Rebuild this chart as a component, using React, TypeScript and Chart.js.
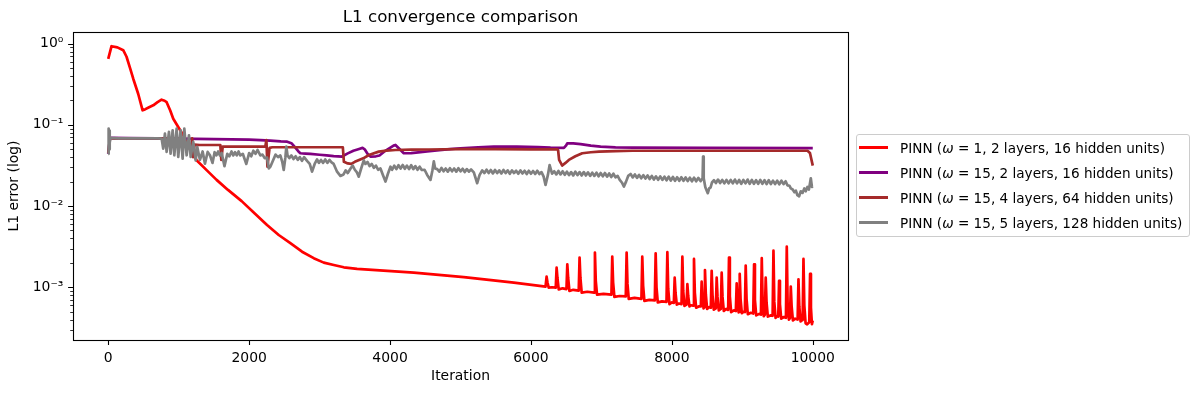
import React, { useEffect, useRef } from "react";
import { Chart, registerables } from "chart.js";

Chart.register(...registerables);

const FONT = "'DejaVu Sans', 'Liberation Sans', sans-serif";

const chartTitle = "L1 convergence comparison";
const xTitle = "Iteration";
const yTitle = "L1 error (log)";

const xTicks = [0, 2000, 4000, 6000, 8000, 10000];
const yMajorTicks = [1e-3, 1e-2, 1e-1, 1];
const yTickLabels = ["10⁻³", "10⁻²", "10⁻¹", "10⁰"];
const yMinorTicks = [
  3e-4, 4e-4, 5e-4, 6e-4, 7e-4, 8e-4, 9e-4,
  2e-3, 3e-3, 4e-3, 5e-3, 6e-3, 7e-3, 8e-3, 9e-3,
  2e-2, 3e-2, 4e-2, 5e-2, 6e-2, 7e-2, 8e-2, 9e-2,
  2e-1, 3e-1, 4e-1, 5e-1, 6e-1, 7e-1, 8e-1, 9e-1,
];

const seriesLabels = [
  { pre: "PINN (", w: "ω", post: " = 1, 2 layers, 16 hidden units)" },
  { pre: "PINN (", w: "ω", post: " = 15, 2 layers, 16 hidden units)" },
  { pre: "PINN (", w: "ω", post: " = 15, 4 layers, 64 hidden units)" },
  { pre: "PINN (", w: "ω", post: " = 15, 5 layers, 128 hidden units)" },
];
const seriesNames = seriesLabels.map((l) => l.pre + l.w + l.post);
const seriesColors = ["#ff0000", "#800080", "#a52a2a", "#808080"];

// ω=1, 2 layers, 16 hidden units
const redIter = [
  0, 47, 130, 213, 260, 310, 355, 426, 488, 521, 580, 639, 700, 757, 800, 829, 880, 923, 1000, 1065,
  1150, 1254, 1400, 1538, 1700, 1894, 2080, 2254, 2420, 2585, 2751, 2917, 3059, 3201, 3343, 3532, 4337, 5047, 5757, 6207,
  6210, 6222, 6234, 6252,
  6300, 6352, 6364, 6376, 6394,
  6450, 6504, 6516, 6528, 6546,
  6600, 6678, 6690, 6702, 6720,
  6800, 6896, 6908, 6920, 6938,
  7030, 7142, 7154, 7166, 7184,
  7260, 7346, 7358, 7370, 7388,
  7470, 7568, 7580, 7592, 7610,
  7680, 7758, 7770, 7782, 7800,
  7860, 7924, 7936, 7948, 7966,
  8000, 8028, 8040, 8052, 8070,
  8100, 8137, 8149, 8161, 8179,
  8208, 8220, 8232, 8250,
  8270, 8302, 8314, 8326, 8344,
  8380, 8411, 8423, 8435, 8450,
  8460, 8470, 8482, 8500,
  8530, 8553, 8565, 8577, 8595,
  8624, 8636, 8648, 8666,
  8695, 8707, 8719, 8737,
  8770, 8799, 8811, 8823, 8841,
  8880, 8908, 8920, 8932, 8948,
  8953, 8963, 8975, 8993,
  9020, 9036, 9048, 9060, 9078,
  9120, 9155, 9167, 9179, 9197,
  9240, 9264, 9276, 9288, 9304,
  9320, 9332, 9344, 9362,
  9400, 9430, 9442, 9454, 9472,
  9495, 9510, 9522, 9534, 9552,
  9590, 9619, 9631, 9643, 9661,
  9676, 9688, 9700, 9718,
  9750, 9785, 9797, 9809, 9827,
  9845, 9856, 9868, 9880, 9898,
  9920, 9950, 9962, 9974, 9988, 10000,
];
const redL1 = [
  0.65, 0.93, 0.9, 0.83, 0.69, 0.5, 0.37, 0.24, 0.151, 0.155, 0.165, 0.174, 0.19, 0.204, 0.198, 0.19, 0.15, 0.119, 0.092, 0.0745,
  0.052, 0.0366, 0.0275, 0.021, 0.0158, 0.0115, 0.0081, 0.00585, 0.0044, 0.00349, 0.00274, 0.00228, 0.00201, 0.00188, 0.00176, 0.00168, 0.00151, 0.00133, 0.00114, 0.00102,
  1.02e-3, 1.35e-3, 1.15e-3, 9.9e-4,
  1.0e-3, 9.9e-4, 1.74e-3, 1.3e-3, 9.4e-4,
  9.7e-4, 9.5e-4, 1.92e-3, 1.3e-3, 9.0e-4,
  9.3e-4, 9.1e-4, 2.32e-3, 1.3e-3, 8.6e-4,
  8.8e-4, 8.6e-4, 2.67e-3, 1.2e-3, 8.1e-4,
  8.3e-4, 8.1e-4, 2.38e-3, 1.15e-3, 7.6e-4,
  7.8e-4, 7.7e-4, 2.67e-3, 1.1e-3, 7.2e-4,
  7.4e-4, 7.2e-4, 2.38e-3, 1.05e-3, 6.8e-4,
  7.0e-4, 6.9e-4, 2.62e-3, 1.0e-3, 6.5e-4,
  6.7e-4, 6.6e-4, 2.7e-3, 9.6e-4, 6.2e-4,
  6.5e-4, 6.4e-4, 1.31e-3, 8.5e-4, 6.1e-4,
  6.3e-4, 6.2e-4, 2.38e-3, 9.0e-4, 5.9e-4,
  6.1e-4, 1.09e-3, 7.8e-4, 5.8e-4,
  6.0e-4, 5.95e-4, 2.23e-3, 8.6e-4, 5.6e-4,
  5.8e-4, 5.8e-4, 1.17e-3, 7.5e-4, 5.5e-4,
  5.7e-4, 1.63e-3, 8.2e-4, 5.4e-4,
  5.7e-4, 5.6e-4, 1.59e-3, 8.0e-4, 5.3e-4,
  5.5e-4, 1.31e-3, 7.6e-4, 5.2e-4,
  5.4e-4, 1.51e-3, 7.6e-4, 5.1e-4,
  5.4e-4, 5.25e-4, 2.32e-3, 7.8e-4, 4.95e-4,
  5.2e-4, 5.1e-4, 1.12e-3, 7.0e-4, 4.9e-4,
  5.0e-4, 1.46e-3, 7.2e-4, 4.8e-4,
  5.0e-4, 4.95e-4, 1.85e-3, 7.2e-4, 4.65e-4,
  4.85e-4, 4.75e-4, 1.92e-3, 7.0e-4, 4.5e-4,
  4.7e-4, 4.6e-4, 2.28e-3, 6.8e-4, 4.4e-4,
  4.6e-4, 1.31e-3, 6.5e-4, 4.35e-4,
  4.5e-4, 4.45e-4, 2.82e-3, 6.6e-4, 4.2e-4,
  4.4e-4, 4.35e-4, 1.2e-3, 6.2e-4, 4.1e-4,
  4.3e-4, 4.2e-4, 3.16e-3, 6.4e-4, 4.0e-4,
  4.15e-4, 1.02e-3, 5.8e-4, 3.9e-4,
  4.1e-4, 4.0e-4, 1.25e-3, 5.8e-4, 3.8e-4,
  3.9e-4, 3.95e-4, 2.23e-3, 6.0e-4, 3.6e-4,
  3.5e-4, 3.7e-4, 1.46e-3, 5.6e-4, 3.5e-4, 3.9e-4,
];

// ω=15, 2 layers, 16 hidden units
const purpleIter = [
  0, 25, 300, 700, 1000, 1500, 2000, 2159, 2300, 2450, 2540, 2600, 2650, 2700, 2727, 2800, 2869, 3000, 3100, 3200,
  3319, 3400, 3480, 3560, 3610, 3640, 3680, 3722, 3800, 3850, 3920, 4000, 4050, 4077, 4120, 4170, 4195, 4300, 4400, 4527,
  4700, 4850, 5000, 5250, 5473, 5800, 6100, 6278, 6468, 6500, 6515, 6600, 6705, 6850, 6989, 7200, 7462, 8500, 10000,
];
const purpleL1 = [
  0.044, 0.069, 0.0688, 0.068, 0.0676, 0.0668, 0.0656, 0.065, 0.0638, 0.0625, 0.062, 0.0595, 0.053, 0.047, 0.0447, 0.0443, 0.0438, 0.0428, 0.042, 0.0412,
  0.0407, 0.0445, 0.048, 0.0505, 0.052, 0.05, 0.044, 0.0407, 0.041, 0.042, 0.047, 0.052, 0.0555, 0.0565, 0.052, 0.047, 0.0447, 0.0448, 0.0458, 0.047,
  0.0488, 0.0502, 0.0515, 0.0528, 0.054, 0.054, 0.0532, 0.0524, 0.052, 0.056, 0.0593, 0.059, 0.058, 0.0555, 0.054, 0.0528, 0.0524, 0.052, 0.0518,
];

// ω=15, 4 layers, 64 hidden units
const brownIter = [
  0, 25, 300, 700, 1000, 1100, 1150, 1185, 1192, 1205, 1225, 1300, 1400, 1500, 1591, 1605, 1625, 1700, 1900, 2100,
  2230, 2245, 2260, 2290, 2330, 2500, 2800, 3100, 3330, 3345, 3400, 3450, 3500, 3620, 3700, 3840, 3950, 4077, 4300, 4550,
  5000, 5500, 6000, 6373, 6385, 6400, 6444, 6490, 6538, 6630, 6728, 6850, 6966, 7200, 7440, 8000, 9000, 9925, 9960, 10000,
];
const brownL1 = [
  0.045, 0.068, 0.068, 0.068, 0.067, 0.062, 0.058, 0.057, 0.068, 0.04, 0.057, 0.0565, 0.0565, 0.0565, 0.0565, 0.037, 0.054, 0.054, 0.054, 0.054,
  0.054, 0.065, 0.0305, 0.052, 0.053, 0.053, 0.053, 0.053, 0.053, 0.035, 0.0335, 0.033, 0.035, 0.0387, 0.0425, 0.0468, 0.0482, 0.049, 0.0495, 0.0497,
  0.0502, 0.0502, 0.05, 0.05, 0.049, 0.037, 0.0315, 0.034, 0.037, 0.041, 0.0447, 0.046, 0.0468, 0.0475, 0.048, 0.048, 0.048, 0.048, 0.045, 0.0315,
];

// ω=15, 5 layers, 128 hidden units
const grayIter = [
  0, 6, 12, 18, 24, 32, 150, 300, 450, 600, 700, 758, 781, 805, 829, 862, 885, 914, 938, 971,
  994, 1027, 1056, 1080, 1113, 1146, 1170, 1207, 1241, 1264, 1302, 1340, 1373, 1411, 1444, 1480, 1510, 1535, 1560, 1585,
  1610, 1650, 1690, 1720, 1750, 1775, 1800, 1825, 1850, 1875, 1910, 1960, 2000, 2030, 2060, 2090, 2120, 2159, 2190, 2220,
  2254, 2280, 2301, 2348, 2375, 2410, 2443, 2470, 2491, 2515, 2528, 2545, 2570, 2600, 2630, 2660, 2690, 2720, 2750, 2780,
  2822, 2860, 2893, 2930, 2964, 2990, 3020, 3050, 3080, 3110, 3140, 3170, 3200, 3248, 3295, 3340, 3370, 3400, 3440, 3470,
  3500, 3530, 3556, 3590, 3627, 3650, 3680, 3710, 3740, 3770, 3800, 3830, 3864, 3900, 3935, 3970, 4006, 4030, 4060, 4090,
  4120, 4150, 4180, 4210, 4240, 4270, 4300, 4330, 4360, 4390, 4420, 4450, 4490, 4527, 4574, 4600, 4621, 4640, 4669, 4700,
  4730, 4760, 4790, 4820, 4850, 4880, 4910, 4940, 4970, 5000, 5030, 5060, 5090, 5120, 5150, 5189, 5215, 5237, 5270, 5308,
  5340, 5370, 5400, 5430, 5460, 5490, 5520, 5550, 5580, 5610, 5640, 5670, 5700, 5730, 5760, 5790, 5820, 5850, 5880, 5910,
  5940, 5970, 6000, 6030, 6060, 6090, 6120, 6150, 6180, 6207, 6240, 6265, 6278, 6300, 6330, 6360, 6390, 6420, 6450, 6480,
  6510, 6540, 6570, 6600, 6630, 6660, 6690, 6720, 6750, 6780, 6810, 6840, 6870, 6900, 6930, 6960, 6990, 7020, 7050, 7080,
  7110, 7140, 7170, 7200, 7230, 7260, 7290, 7320, 7350, 7380, 7415, 7445, 7475, 7505, 7535, 7565, 7595, 7625, 7655, 7685,
  7715, 7745, 7775, 7805, 7835, 7865, 7895, 7925, 7955, 7985, 8015, 8045, 8075, 8105, 8135, 8165, 8195, 8225, 8255, 8285,
  8315, 8345, 8375, 8409, 8436, 8443, 8452, 8475, 8495, 8510, 8530, 8550, 8570, 8598, 8625, 8655, 8685, 8715, 8745, 8775,
  8805, 8835, 8865, 8895, 8925, 8955, 8985, 9015, 9045, 9075, 9105, 9135, 9165, 9195, 9225, 9255, 9285, 9315, 9345, 9375,
  9405, 9435, 9465, 9495, 9525, 9555, 9585, 9615, 9640, 9670, 9688, 9715, 9740, 9760, 9782, 9806, 9830, 9855, 9880, 9900,
  9924, 9945, 9960, 9972, 9988, 10000,
];
const grayL1 = [
  0.044, 0.09, 0.05, 0.085, 0.06, 0.069, 0.068, 0.068, 0.068, 0.068, 0.068, 0.0677, 0.0509, 0.078, 0.0464, 0.0818, 0.0442, 0.0857, 0.0422, 0.0899,
  0.0402, 0.0857, 0.0384, 0.0899, 0.0422, 0.0744, 0.0402, 0.0616, 0.0366, 0.0534, 0.037, 0.047, 0.0333, 0.0464, 0.0422, 0.034, 0.046, 0.042, 0.047, 0.042,
  0.045, 0.031, 0.044, 0.041, 0.047, 0.042, 0.046, 0.042, 0.047, 0.042, 0.044, 0.033, 0.045, 0.041, 0.048, 0.044, 0.049, 0.042, 0.043, 0.039,
  0.0395, 0.029, 0.0305, 0.038, 0.043, 0.04, 0.042, 0.035, 0.0278, 0.04, 0.054, 0.042, 0.039, 0.042, 0.038, 0.041, 0.037, 0.04, 0.036, 0.04,
  0.036, 0.033, 0.0265, 0.033, 0.0375, 0.034, 0.037, 0.034, 0.0375, 0.034, 0.037, 0.0345, 0.033, 0.0265, 0.0235, 0.0245, 0.0275, 0.0255, 0.029, 0.0315,
  0.028, 0.026, 0.023, 0.029, 0.0365, 0.033, 0.035, 0.031, 0.033, 0.0295, 0.0315, 0.028, 0.029, 0.024, 0.02, 0.025, 0.0305, 0.028, 0.0315, 0.0285,
  0.0318, 0.029, 0.032, 0.0288, 0.0315, 0.0285, 0.0318, 0.0285, 0.031, 0.028, 0.0305, 0.0278, 0.028, 0.0242, 0.021, 0.027, 0.0355, 0.029, 0.0285, 0.0265,
  0.0295, 0.0268, 0.029, 0.0265, 0.0292, 0.0268, 0.029, 0.0265, 0.0292, 0.0268, 0.0288, 0.0262, 0.0285, 0.0265, 0.0282, 0.026, 0.022, 0.0191, 0.024, 0.0275,
  0.0255, 0.028, 0.0255, 0.0278, 0.0252, 0.0278, 0.0255, 0.0275, 0.0252, 0.0278, 0.0255, 0.0275, 0.025, 0.0275, 0.0255, 0.0272, 0.025, 0.0275, 0.0252, 0.0272,
  0.0248, 0.0272, 0.025, 0.027, 0.0248, 0.0272, 0.0248, 0.0262, 0.023, 0.0182, 0.024, 0.032, 0.0292, 0.025, 0.0268, 0.0245, 0.027, 0.0245, 0.0268, 0.0242,
  0.0265, 0.024, 0.0262, 0.0238, 0.0265, 0.024, 0.0262, 0.0238, 0.0262, 0.0238, 0.026, 0.0235, 0.0258, 0.0235, 0.0258, 0.0232, 0.0255, 0.0232, 0.0255, 0.023,
  0.0252, 0.0228, 0.025, 0.0225, 0.0235, 0.021, 0.0195, 0.0174, 0.02, 0.0235, 0.0248, 0.0225, 0.0245, 0.0222, 0.0242, 0.022, 0.024, 0.0218, 0.0238, 0.0215,
  0.0235, 0.0212, 0.0232, 0.021, 0.0232, 0.021, 0.023, 0.0208, 0.023, 0.0206, 0.0228, 0.0205, 0.0226, 0.0205, 0.0226, 0.0204, 0.0225, 0.0203, 0.0224, 0.0202,
  0.0224, 0.0202, 0.0222, 0.0203, 0.022, 0.0406, 0.022, 0.017, 0.0155, 0.0144, 0.0165, 0.017, 0.0195, 0.0208, 0.0192, 0.0212, 0.0192, 0.021, 0.019, 0.021,
  0.019, 0.021, 0.019, 0.0212, 0.019, 0.021, 0.0188, 0.021, 0.019, 0.0212, 0.0188, 0.021, 0.0188, 0.0208, 0.0188, 0.021, 0.0188, 0.0208, 0.0186, 0.0208,
  0.0186, 0.0206, 0.0186, 0.0206, 0.0185, 0.0205, 0.0186, 0.0202, 0.018, 0.0178, 0.0165, 0.016, 0.0148, 0.0155, 0.0136, 0.0132, 0.0152, 0.0145, 0.0165, 0.0152,
  0.0172, 0.016, 0.019, 0.022, 0.0172, 0.0175,
];

const seriesIters = [redIter, purpleIter, brownIter, grayIter];
const seriesValues = [redL1, purpleL1, brownL1, grayL1];

const X_MIN = -500;
const X_MAX = 10500;
const Y_MIN = 2.24e-4;
const Y_MAX = 1.39;

const mplAxesPlugin = {
  id: "mplAxes",
  afterDraw(chart: any) {
    const { ctx, chartArea: a, scales } = chart;
    const xs = scales.x;
    const ys = scales.y;
    ctx.save();
    ctx.strokeStyle = "#000";
    ctx.lineWidth = 1.1;
    ctx.beginPath();
    for (const v of xTicks) {
      const px = Math.round(xs.getPixelForValue(v)) + 0.5;
      ctx.moveTo(px, a.bottom);
      ctx.lineTo(px, a.bottom + 4.9);
    }
    for (const v of yMajorTicks) {
      const py = Math.round(ys.getPixelForValue(v)) + 0.5;
      ctx.moveTo(a.left, py);
      ctx.lineTo(a.left - 4.9, py);
    }
    ctx.stroke();
    ctx.lineWidth = 0.8;
    ctx.beginPath();
    for (const v of yMinorTicks) {
      const py = Math.round(ys.getPixelForValue(v)) + 0.5;
      ctx.moveTo(a.left, py);
      ctx.lineTo(a.left - 2.8, py);
    }
    ctx.stroke();
    ctx.lineWidth = 1.1;
    ctx.strokeRect(
      Math.round(a.left) + 0.5,
      Math.round(a.top) + 0.5,
      Math.round(a.right - a.left),
      Math.round(a.bottom - a.top)
    );
    ctx.restore();
  },
};

export default function App() {
  const ref = useRef<HTMLCanvasElement | null>(null);

  useEffect(() => {
    if (!ref.current) return;
    Chart.defaults.font.family = FONT;
    const datasets = seriesNames.map((name, i) => ({
      label: name,
      data: seriesIters[i].map((x, j) => ({ x, y: seriesValues[i][j] })),
      borderColor: seriesColors[i],
      backgroundColor: seriesColors[i],
      borderWidth: 2.7,
      pointRadius: 0,
      tension: 0,
      fill: false,
      borderJoinStyle: "round" as const,
      order: 3 - i,
    }));
    const chart = new Chart(ref.current, {
      type: "line",
      data: { datasets },
      plugins: [mplAxesPlugin],
      options: {
        animation: false,
        responsive: false,
        maintainAspectRatio: false,
        devicePixelRatio: 1,
        layout: { padding: { left: 0, right: 351, top: 0, bottom: 0 } },
        plugins: {
          legend: { display: false },
          tooltip: { enabled: false },
          title: {
            display: true,
            text: chartTitle,
            color: "#000",
            fullSize: false,
            font: { family: FONT, size: 16.7, weight: "normal" },
            padding: { top: 8, bottom: 4 },
          },
        },
        scales: {
          x: {
            type: "linear",
            min: X_MIN,
            max: X_MAX,
            afterBuildTicks: (s: any) => {
              s.ticks = xTicks.map((v) => ({ value: v }));
            },
            afterFit: (s: any) => {
              s.height = 53;
            },
            grid: { display: false, drawTicks: false },
            border: { display: false },
            ticks: {
              color: "#000",
              padding: 9.7,
              maxRotation: 0,
              font: { family: FONT, size: 13.9 },
              callback: (v: any) => String(v),
            },
            title: {
              display: true,
              text: xTitle,
              color: "#000",
              font: { family: FONT, size: 13.9 },
              padding: { top: 0, bottom: 8.7 },
            },
          },
          y: {
            type: "logarithmic",
            min: Y_MIN,
            max: Y_MAX,
            afterBuildTicks: (s: any) => {
              s.ticks = yMajorTicks.map((v) => ({ value: v }));
            },
            afterFit: (s: any) => {
              s.width = 73;
            },
            grid: { display: false, drawTicks: false },
            border: { display: false },
            ticks: {
              color: "#000",
              padding: 9.7,
              font: { family: FONT, size: 13.9 },
              callback: (v: any) => {
                let best = 0;
                for (let k = 0; k < yMajorTicks.length; k++) {
                  if (Math.abs(Math.log10(yMajorTicks[k]) - Math.log10(v)) < 1e-6) best = k;
                }
                return yTickLabels[best];
              },
            },
            title: {
              display: true,
              text: yTitle,
              color: "#000",
              font: { family: FONT, size: 13.9 },
              padding: { top: 6.5, bottom: 0 },
            },
          },
        },
      },
    } as any);
    return () => chart.destroy();
  }, []);

  return (
    <div style={{ position: "absolute", left: 0, top: 0, width: 1199, height: 393, background: "#fff" }}>
      <canvas ref={ref} width={1199} height={393} style={{ width: 1199, height: 393, display: "block" }} />
      <div
        style={{
          position: "absolute",
          left: 856,
          top: 134,
          width: 334,
          height: 103,
          boxSizing: "border-box",
          border: "1px solid #cccccc",
          borderRadius: 3,
          background: "rgba(255,255,255,0.8)",
          padding: "0 4px 1px 2px",
          fontFamily: FONT,
          fontSize: 13.6,
          color: "#000",
        }}
      >
        {seriesLabels.map((l, i) => (
          <div key={i} style={{ height: 25, display: "flex", alignItems: "center", whiteSpace: "nowrap" }}>
            <span
              style={{
                display: "inline-block",
                width: 29,
                height: 2.7,
                background: seriesColors[i],
                marginRight: 12,
                flex: "none",
              }}
            />
            <span>
              {l.pre}
              <i>{l.w}</i>
              {l.post}
            </span>
          </div>
        ))}
      </div>
    </div>
  );
}
